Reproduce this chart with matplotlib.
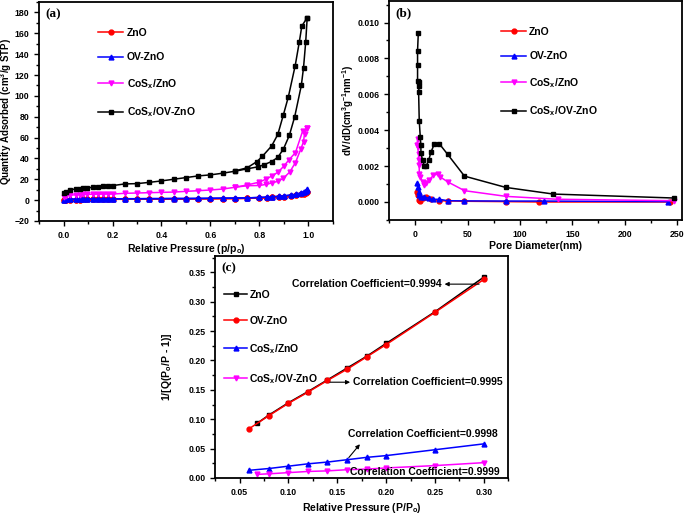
import matplotlib
matplotlib.use("Agg")
import matplotlib.pyplot as plt
import numpy as np
from matplotlib.ticker import MultipleLocator, FormatStrFormatter

plt.rcParams['font.family'] = 'Liberation Sans'
plt.rcParams['font.weight'] = 'bold'
plt.rcParams['mathtext.fontset'] = 'custom'
plt.rcParams['mathtext.rm'] = 'Liberation Sans:bold'
plt.rcParams['mathtext.it'] = 'Liberation Sans:bold'
plt.rcParams['mathtext.bf'] = 'Liberation Sans:bold'
plt.rcParams['mathtext.default'] = 'rm'

# ---- (a) isotherms ----
p_low = [0.003, 0.01, 0.027, 0.05, 0.067, 0.08, 0.094, 0.12, 0.14, 0.16, 0.18, 0.2, 0.25, 0.3,
         0.35, 0.4, 0.45, 0.5, 0.55, 0.6, 0.65, 0.7, 0.75]
black_ads_hi_p = [0.796, 0.819, 0.85, 0.875, 0.898, 0.922, 0.944, 0.971, 0.98, 0.989, 0.995]
black_ads_hi_q = [32, 34, 37, 41, 49, 62, 80, 110, 127, 152, 175]
black_des_p = [0.995, 0.973, 0.963, 0.946, 0.918, 0.898, 0.875, 0.85, 0.812, 0.79, 0.75, 0.7]
black_des_q = [175, 167, 152, 129, 99, 82, 63, 52, 42, 37, 31, 28]
black_low_q = [7, 8, 10, 10.6, 11, 11.3, 11.6, 12.3, 12.6, 13.2, 13.5, 13.9, 15.5, 15.8,
               17, 18.4, 20, 21.6, 23.2, 24.2, 25.8, 27.7, 30]

mag_low_q = [3.2, 4.2, 4.8, 5.1, 5.3, 5.4, 5.5, 5.6, 5.7, 5.8, 5.8, 5.8, 6.5, 6.8,
             7.1, 7.4, 7.7, 8.4, 9, 9.7, 10.6, 12.3, 13.8]
mag_ads_hi_p = [0.8, 0.826, 0.85, 0.875, 0.898, 0.924, 0.947, 0.969, 0.98, 0.984, 0.995]
mag_ads_hi_q = [14, 15, 16.4, 18, 21, 27, 36, 49, 56, 63.8, 69]
mag_des_p = [0.995, 0.976, 0.947, 0.921, 0.9, 0.877, 0.85, 0.826, 0.8, 0.75, 0.7]
mag_des_q = [69, 66, 45.5, 38.8, 32.7, 27, 23, 20, 17.3, 14.5, 12.3]

ov_low_q = [0.3, 0.6, 0.8, 0.9, 1.0, 1.0, 1.1, 1.1, 1.1, 1.2, 1.2, 1.2, 1.3, 1.3,
            1.4, 1.4, 1.5, 1.5, 1.6, 1.7, 1.8, 1.9, 2.1]
ov_hi_p = [0.8, 0.83, 0.85, 0.88, 0.9, 0.93, 0.95, 0.97, 0.98, 0.99, 0.995]
ov_hi_q = [2.5, 2.8, 3.1, 3.6, 4.0, 4.8, 5.6, 6.8, 7.6, 8.8, 10]
zno_low_q = [0.1, 0.3, 0.4, 0.5, 0.5, 0.6, 0.6, 0.6, 0.7, 0.7, 0.7, 0.8, 0.8, 0.9,
             0.9, 1.0, 1.0, 1.1, 1.2, 1.3, 1.4, 1.5, 1.7]
zno_hi_q = [2.0, 2.3, 2.6, 3.0, 3.4, 4.0, 4.6, 5.6, 6.3, 7.3, 8.2]

# ---- (b) pore size distribution ----
zno_d = [1.3, 2.2, 3.2, 4.5, 7, 10.3, 15, 23, 31, 47, 87, 118.6, 243]
zno_v = [0.00057, 0.0004, 0.00011, 0.00006, 0.0002, 0.00026, 0.00018, 0.00007, 0.00006,
         0.00004, 0.00002, 0.0, 0.0]
ov_d = [1.3, 2.2, 3.2, 3.8, 5.4, 8.7, 12.8, 16.7, 23, 31, 47, 87, 123, 241]
ov_v = [0.00103, 0.00085, 0.00057, 0.00039, 0.0003, 0.0003, 0.0002, 0.00015, 0.00015,
        0.00007, 0.00006, 0.00005, 0.00005, 0.00002]
cz_d = [2.2, 1.6, 2.2, 3.2, 3.2, 3.8, 3.8, 4.8, 7, 8.7, 10.3, 13.5, 17.3, 21.5, 23.7, 31, 47,
        87, 136, 247]
cz_v = [0.0035, 0.00315, 0.00306, 0.00269, 0.00232, 0.00204, 0.00158, 0.0014, 0.00112,
        0.00094, 0.00107, 0.00122, 0.00149, 0.00155, 0.0014, 0.00112, 0.00063, 0.00031,
        0.00015, 0.00007]
cov_d = [2.9, 2.2, 2.2, 2.2, 3.2, 3.8, 3.2, 3.8, 4.8, 5.4, 5.4, 7, 8.7, 10.5, 12.8, 15, 18.3,
         23, 31, 47, 86.5, 132, 247]
cov_v = [0.00941, 0.00843, 0.00766, 0.00674, 0.00669, 0.00646, 0.00615, 0.00453, 0.00361,
         0.00315, 0.00274, 0.00232, 0.00201, 0.00201, 0.00232, 0.00278, 0.00324, 0.00324,
         0.00265, 0.00144, 0.00081, 0.00044, 0.00022]

# ---- (c) BET plots ----
bet_zno_x = [0.068, 0.08, 0.10, 0.12, 0.14, 0.16, 0.18, 0.20, 0.25, 0.30]
bet_zno_y = [0.093, 0.107, 0.128, 0.147, 0.167, 0.187, 0.207, 0.229, 0.283, 0.342]
bet_ov_x = [0.06, 0.08, 0.10, 0.12, 0.14, 0.16, 0.18, 0.20, 0.25, 0.30]
bet_ov_y = [0.084, 0.106, 0.127, 0.146, 0.166, 0.185, 0.206, 0.227, 0.282, 0.338]
bet_cz_x = [0.06, 0.08, 0.10, 0.12, 0.14, 0.16, 0.18, 0.20, 0.25, 0.30]
bet_cz_y = [0.013, 0.016, 0.020, 0.024, 0.027, 0.031, 0.035, 0.038, 0.048, 0.058]
bet_cov_x = [0.068, 0.08, 0.10, 0.12, 0.14, 0.16, 0.18, 0.20, 0.25, 0.30]
bet_cov_y = [0.006, 0.007, 0.009, 0.011, 0.012, 0.014, 0.015, 0.017, 0.021, 0.026]

names = ['ZnO', 'OV-ZnO', 'CoS$_x$/ZnO', 'CoS$_x$/OV-ZnO']

fig = plt.figure(figsize=(6.85, 5.15), dpi=100)
ax1 = fig.add_axes([0.057, 0.571, 0.429, 0.425])
ax2 = fig.add_axes([0.568, 0.573, 0.428, 0.425])
ax3 = fig.add_axes([0.314, 0.072, 0.428, 0.431])

lw = 1.1
ms = 3.5
lfs = 7.5   # legend / label size

def style(ax):
    for s in ax.spines.values():
        s.set_linewidth(1.3)
    ax.tick_params(which='both', direction='out', labelsize=6.3, width=1.0)
    ax.tick_params(which='major', length=3.5)
    ax.tick_params(which='minor', length=2)
    for t in ax.get_xticklabels() + ax.get_yticklabels():
        t.set_fontweight('bold')

# (a)
zno_q = zno_low_q + zno_hi_q
ov_q = ov_low_q + ov_hi_q
p_all = p_low + ov_hi_p
ax1.plot(p_all, zno_q, '-o', color='red', lw=lw, ms=ms, label=names[0])
ax1.plot(p_all[::-1], [q * 0.97 for q in zno_q[::-1]], '-o', color='red', lw=lw, ms=ms)
ax1.plot(p_all, ov_q, '-^', color='blue', lw=lw, ms=ms, label=names[1])
ax1.plot(p_all[::-1], [q * 1.02 for q in ov_q[::-1]], '-^', color='blue', lw=lw, ms=ms)
ax1.plot(p_low + mag_ads_hi_p, mag_low_q + mag_ads_hi_q, '-v', color='magenta', lw=lw, ms=ms,
         label=names[2])
ax1.plot(mag_des_p, mag_des_q, '-v', color='magenta', lw=lw, ms=ms)
ax1.plot(p_low + black_ads_hi_p, black_low_q + black_ads_hi_q, '-s', color='black', lw=lw,
         ms=ms, label=names[3])
ax1.plot(black_des_p, black_des_q, '-s', color='black', lw=lw, ms=ms)
ax1.set_xlim(-0.1, 1.1)
ax1.set_ylim(-20, 190)
ax1.xaxis.set_major_locator(MultipleLocator(0.2))
ax1.xaxis.set_minor_locator(MultipleLocator(0.1))
ax1.yaxis.set_major_locator(MultipleLocator(20))
ax1.yaxis.set_minor_locator(MultipleLocator(10))
ax1.set_xlabel('Relative Pressure (p/p$_o$)', fontsize=lfs, fontweight='bold', labelpad=2)
ax1.set_ylabel('Quantity Adsorbed (cm$^3$/g STP)', fontsize=7, fontweight='bold', labelpad=0)
ax1.legend(loc='upper left', bbox_to_anchor=(0.17, 0.925), frameon=False, fontsize=lfs,
           labelspacing=1.4, handlelength=2.4, handletextpad=0.3)
ax1.text(0.02, 0.97, '(a)', transform=ax1.transAxes, ha='left', va='top',
         fontsize=9.5, fontweight='bold', family='Liberation Serif')
style(ax1)

# (b)
ax2.plot(zno_d, zno_v, '-o', color='red', lw=lw, ms=ms, label=names[0])
ax2.plot(ov_d, ov_v, '-^', color='blue', lw=lw, ms=ms, label=names[1])
ax2.plot(cz_d, cz_v, '-v', color='magenta', lw=lw, ms=ms, label=names[2])
ax2.plot(cov_d, cov_v, '-s', color='black', lw=lw, ms=ms, label=names[3])
ax2.set_xlim(-25, 255)
ax2.set_ylim(-0.001, 0.0112)
ax2.xaxis.set_major_locator(MultipleLocator(50))
ax2.xaxis.set_minor_locator(MultipleLocator(25))
ax2.yaxis.set_major_locator(MultipleLocator(0.002))
ax2.yaxis.set_minor_locator(MultipleLocator(0.001))
ax2.yaxis.set_major_formatter(FormatStrFormatter('%.3f'))
ax2.set_xlabel('Pore Diameter(nm)', fontsize=lfs, fontweight='bold', labelpad=2)
ax2.set_ylabel('dV/dD(cm$^3$g$^{-1}$nm$^{-1}$)', fontsize=7, fontweight='bold', labelpad=1)
ax2.legend(loc='upper left', bbox_to_anchor=(0.35, 0.925), frameon=False, fontsize=lfs,
           labelspacing=1.4, handlelength=2.4, handletextpad=0.3)
ax2.text(0.02, 0.97, '(b)', transform=ax2.transAxes, ha='left', va='top',
         fontsize=9.5, fontweight='bold', family='Liberation Serif')
style(ax2)

# (c)
ax3.plot(bet_zno_x, bet_zno_y, '-s', color='black', lw=lw, ms=ms, label=names[0])
ax3.plot(bet_ov_x, bet_ov_y, '-o', color='red', lw=lw, ms=ms, label=names[1])
ax3.plot(bet_cz_x, bet_cz_y, '-^', color='blue', lw=lw, ms=ms, label=names[2])
ax3.plot(bet_cov_x, bet_cov_y, '-v', color='magenta', lw=lw, ms=ms, label=names[3])
ax3.set_xlim(0.025, 0.325)
ax3.set_ylim(0, 0.378)
ax3.xaxis.set_major_locator(MultipleLocator(0.05))
ax3.xaxis.set_minor_locator(MultipleLocator(0.025))
ax3.yaxis.set_major_locator(MultipleLocator(0.05))
ax3.yaxis.set_minor_locator(MultipleLocator(0.025))
ax3.xaxis.set_major_formatter(FormatStrFormatter('%.2f'))
ax3.yaxis.set_major_formatter(FormatStrFormatter('%.2f'))
ax3.set_xlabel('Relative Pressure (P/P$_o$)', fontsize=lfs, fontweight='bold', labelpad=3)
ax3.set_ylabel('1/[Q(P$_o$/P - 1)]', fontsize=lfs, fontweight='bold', labelpad=10)
ax3.legend(loc='upper left', bbox_to_anchor=(0.0, 0.89), frameon=False, fontsize=lfs,
           labelspacing=1.55, handlelength=2.2, handletextpad=0.2)
ax3.text(0.02, 0.97, '(c)', transform=ax3.transAxes, ha='left', va='top',
         fontsize=9.5, fontweight='bold', family='Liberation Serif')
fs = 7.5
ax3.text(0.257, 0.330, 'Correlation Coefficient=0.9994', ha='right', va='center', fontsize=fs,
         fontweight='bold')
ax3.annotate('', xy=(0.257, 0.330), xytext=(0.298, 0.330),
             arrowprops=dict(arrowstyle='-|>', color='black', lw=0.8, mutation_scale=6))
ax3.text(0.166, 0.163, 'Correlation Coefficient=0.9995', ha='left', va='center', fontsize=fs,
         fontweight='bold')
ax3.annotate('', xy=(0.166, 0.163), xytext=(0.14, 0.163),
             arrowprops=dict(arrowstyle='-|>', color='black', lw=0.8, mutation_scale=6))
ax3.text(0.1615, 0.0746, 'Correlation Coefficient=0.9998', ha='left', va='center', fontsize=fs,
         fontweight='bold')
ax3.annotate('', xy=(0.175, 0.061), xytext=(0.160, 0.031),
             arrowprops=dict(arrowstyle='-|>', color='black', lw=0.8, mutation_scale=6))
ax3.text(0.163, 0.0097, 'Correlation Coefficient=0.9999', ha='left', va='center', fontsize=fs,
         fontweight='bold')
style(ax3)

fig.savefig('out.png', dpi=100)
